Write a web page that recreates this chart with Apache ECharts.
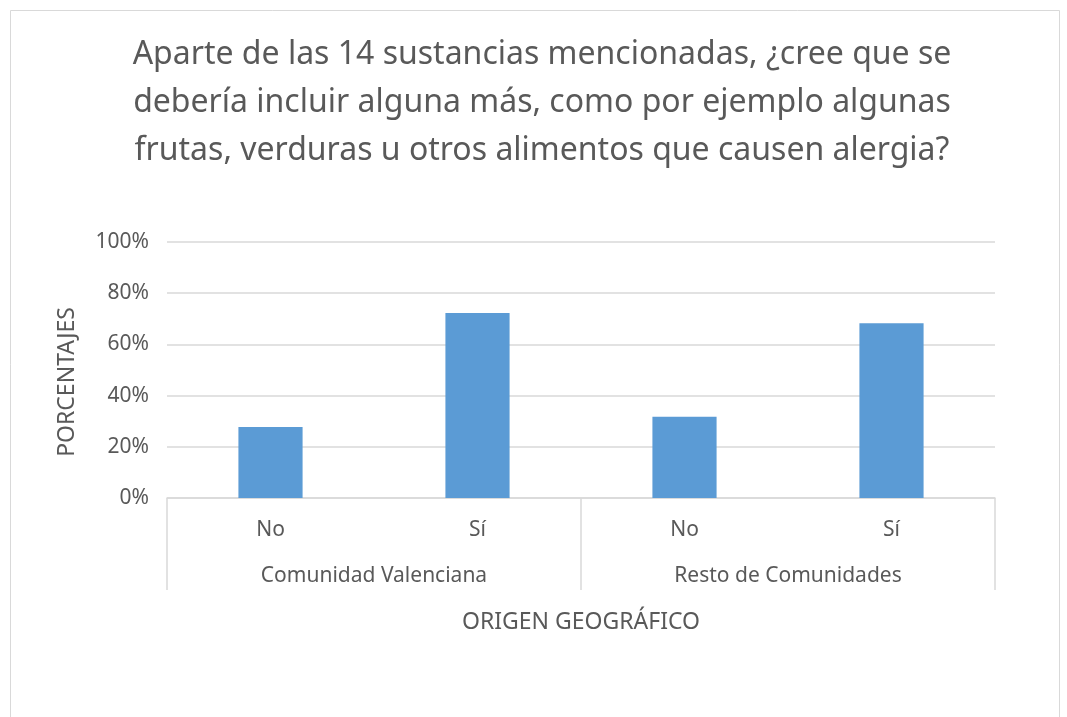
<!DOCTYPE html>
<html>
<head>
<meta charset="utf-8">
<script src="https://cdn.jsdelivr.net/npm/echarts@6/dist/echarts.min.js"></script>
<style>
  html, body { margin: 0; padding: 0; background: #fff; }
  #chart { width: 1067px; height: 717px; }
</style>
</head>
<body>
<div id="chart"></div>
<script>
  // respuestas y grupos geográficos
  const respuestas = ['No', 'Sí', 'No', 'Sí']
  const grupos = ['Comunidad Valenciana', 'Resto de Comunidades']
  const porcentajes = [27.7, 72.3, 31.7, 68.3]
  const yTicks = [0, 20, 40, 60, 80, 100]

  const tituloTexto = 'Aparte de las 14 sustancias mencionadas, ¿cree que se\n' +
    'debería incluir alguna más, como por ejemplo algunas\n' +
    'frutas, verduras u otros alimentos que causen alergia?'

  const gris = '#595959'
  const fuente = 'Noto Sans'

  const chart = echarts.init(document.getElementById('chart'))

  let option = {
    backgroundColor: '#fff',
    textStyle: { fontFamily: fuente },
    title: {
      text: tituloTexto,
      left: 537,
      top: 26,
      textAlign: 'center',
      textStyle: {
        fontFamily: fuente,
        fontWeight: 'normal',
        fontSize: 32,
        lineHeight: 48,
        color: gris
      }
    },
    graphic: [{
      type: 'rect',
      shape: { x: 10.5, y: 10.5, width: 1049, height: 720 },
      style: { fill: 'none', stroke: '#d9d9d9', lineWidth: 1 },
      silent: true
    }],
    grid: {
      left: 167,
      right: 72,
      top: 242,
      bottom: 219
    },
    xAxis: [{
      type: 'category',
      data: respuestas,
      position: 'bottom',
      axisLine: { show: true, lineStyle: { color: '#d9d9d9', width: 1.5 } },
      axisTick: { show: false },
      axisLabel: { color: gris, fontSize: 21, margin: 22 }
    }, {
      type: 'category',
      data: grupos,
      position: 'bottom',
      axisLine: { show: false },
      axisTick: { show: true, length: 92, lineStyle: { color: '#d9d9d9', width: 1.5 } },
      axisLabel: { color: gris, fontSize: 21, margin: 68 },
      name: 'ORIGEN GEOGRÁFICO',
      nameLocation: 'middle',
      nameGap: 113,
      nameTextStyle: { color: gris, fontSize: 23, fontFamily: fuente }
    }],
    yAxis: {
      type: 'value',
      min: 0,
      max: 100,
      interval: 20,
      name: 'PORCENTAJES',
      nameLocation: 'middle',
      nameGap: 88,
      nameTextStyle: { color: gris, fontSize: 23, fontFamily: fuente, padding: [0, 0, 0, -24] },
      axisLine: { show: false },
      axisTick: { show: false },
      splitLine: { lineStyle: { color: '#d9d9d9', width: 1.5 } },
      axisLabel: {
        color: gris,
        fontSize: 21,
        margin: 18,
        formatter: (v) => yTicks.includes(v) ? v + '%' : ''
      }
    },
    series: [{
      type: 'bar',
      xAxisIndex: 0,
      data: porcentajes,
      barWidth: '31%',
      itemStyle: { color: '#5b9bd5' }
    }]
  }

  chart.setOption(option)
</script>
</body>
</html>
